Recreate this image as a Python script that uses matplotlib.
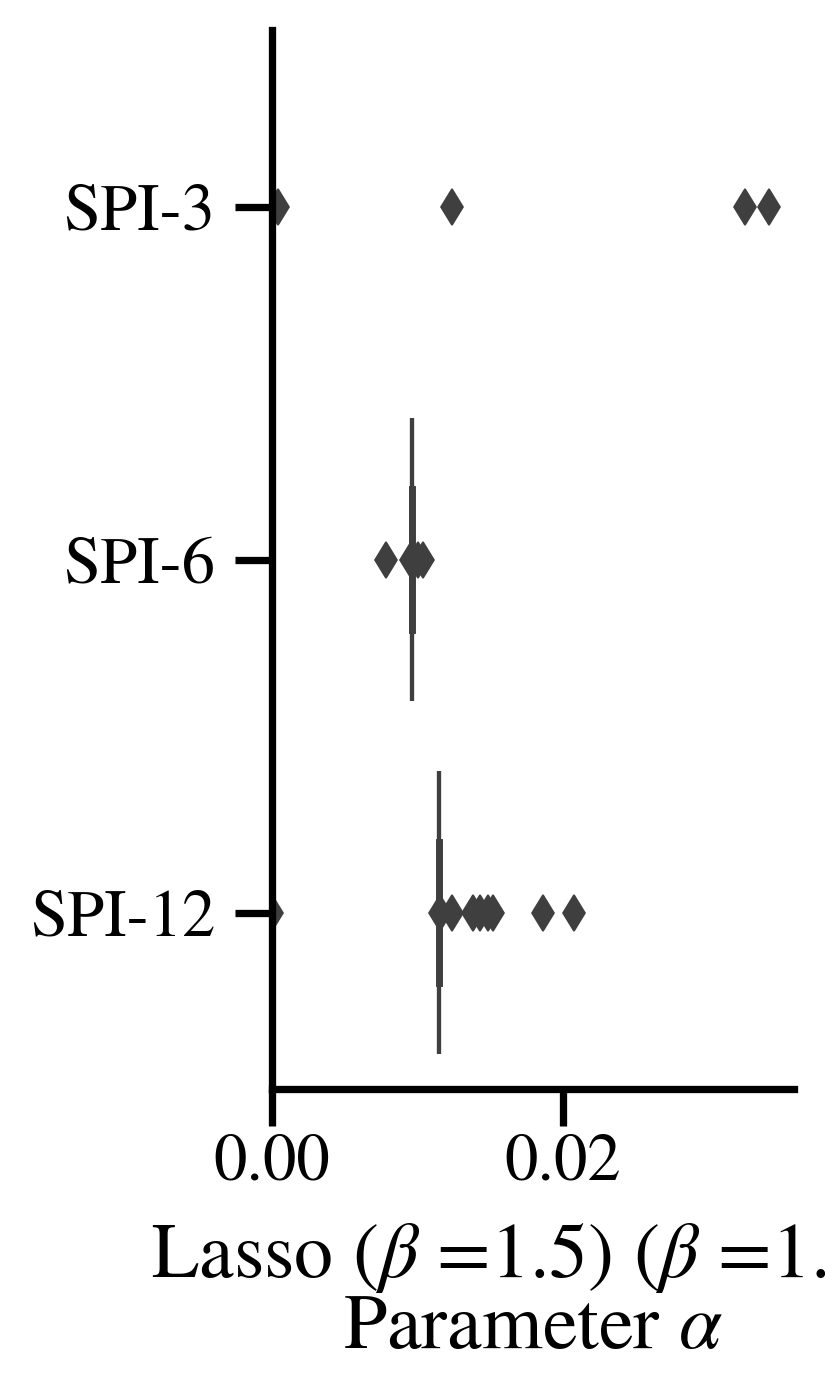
import matplotlib
matplotlib.use("Agg")
import matplotlib.pyplot as plt

# ---- data ----
categories = ["SPI-3", "SPI-6", "SPI-12"]
medians = [0.0, 0.00965, 0.01146]
q1 = [0.0, 0.00965, 0.01146]
q3 = [0.0, 0.00965, 0.01146]
whisker_lo = [0.0, 0.00965, 0.01146]
whisker_hi = [0.0, 0.00965, 0.01146]
fliers_spi3 = [0.0004, 0.01235, 0.03252, 0.03417]
fliers_spi6 = [0.00782, 0.00958, 0.01002, 0.01036]
fliers_spi12 = [0.0, 0.01153, 0.0124, 0.01379, 0.01427, 0.01482, 0.01516, 0.01866, 0.02079]
xticks = [0.00, 0.02]
xtick_labels = ["0.00", "0.02"]

plt.rcParams["font.family"] = ["STIXGeneral", "Liberation Serif", "DejaVu Serif"]
plt.rcParams["mathtext.fontset"] = "stix"
plt.rcParams["font.size"] = 16

fig = plt.figure(figsize=(8.25 / 3, 13.98 / 3), dpi=300)
ax = fig.add_axes([272 / 825, 1 - 1089 / 1398, (794 - 272) / 825, (1089 - 30) / 1398])

fliers = [fliers_spi3, fliers_spi6, fliers_spi12]
stats = []
for i, name in enumerate(categories):
    stats.append(dict(label=name, med=medians[i], q1=q1[i], q3=q3[i],
                      whislo=whisker_lo[i], whishi=whisker_hi[i], fliers=fliers[i]))

gray = "#3f3f3f"
ax.bxp(stats, positions=range(len(categories)), widths=0.8, vert=False,
       patch_artist=True,
       boxprops=dict(facecolor="white", edgecolor=gray, linewidth=1.0),
       medianprops=dict(color=gray, linewidth=1.0),
       whiskerprops=dict(color=gray, linewidth=1.0),
       capprops=dict(color=gray, linewidth=1.6),
       flierprops=dict(marker="d", markersize=6.0, markerfacecolor=gray,
                       markeredgecolor=gray, markeredgewidth=0.4, linestyle="none"))

ax.set_xlim(0, 1.05 * max(fliers_spi3))
ax.set_ylim(2.5, -0.5)
ax.set_yticks(range(len(categories)))
ax.set_yticklabels(categories)
ax.set_xticks(xticks)
ax.set_xticklabels(xtick_labels)

for s in ["top", "right"]:
    ax.spines[s].set_visible(False)
for s in ["left", "bottom"]:
    ax.spines[s].set_linewidth(1.75)
ax.tick_params(axis="both", length=8.8, width=1.75, labelsize=16, color="black")
ax.tick_params(axis="y", pad=4.8)
ax.tick_params(axis="x", pad=2.0)

ax.set_xlabel("Lasso ($\\beta$ =1.5) ($\\beta$ =1.5)  \nParameter $\\alpha$",
              fontsize=18.7, labelpad=6, linespacing=1.0)

fig.savefig("out.png", dpi=300)
